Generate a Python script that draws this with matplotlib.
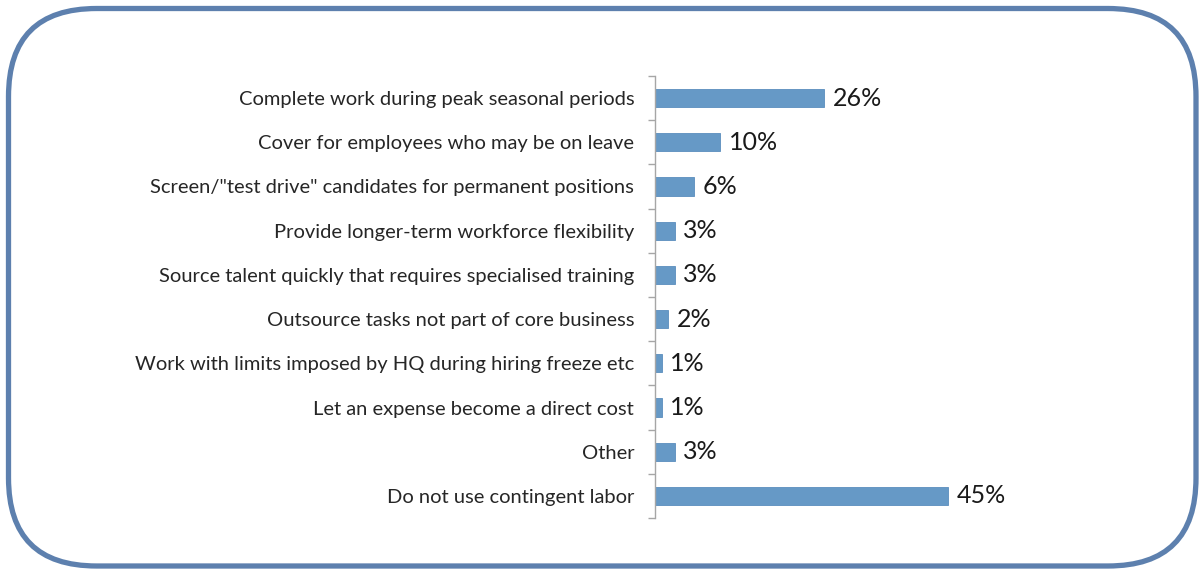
import matplotlib
matplotlib.use("Agg")
import matplotlib.pyplot as plt
from matplotlib.patches import FancyBboxPatch

categories = [
    "Complete work during peak seasonal periods",
    "Cover for employees who may be on leave",
    "Screen/\"test drive\" candidates for permanent positions",
    "Provide longer-term workforce flexibility",
    "Source talent quickly that requires specialised training",
    "Outsource tasks not part of core business",
    "Work with limits imposed by HQ during hiring freeze etc",
    "Let an expense become a direct cost",
    "Other",
    "Do not use contingent labor",
]
values = [26, 10, 6, 3, 3, 2, 1, 1, 3, 45]

plt.rcParams['font.family'] = ['Lato', 'DejaVu Sans']

fig = plt.figure(figsize=(12.01, 5.69), dpi=100)

# -- rounded frame drawn in pixel units
bg = fig.add_axes([0, 0, 1, 1])
bg.set_xlim(0, 1201)
bg.set_ylim(0, 569)
bg.axis('off')
frame = FancyBboxPatch((8.5, 3), 1187.5, 557.5,
                       boxstyle="round,pad=0,rounding_size=88",
                       fill=False, edgecolor='#5d80ae', linewidth=3.8)
bg.add_patch(frame)

ax = fig.add_axes([655/1201, 51/569, 325/1201, 442/569])
pos = list(range(len(categories)))
ax.barh(pos, values, height=0.41, color='#6699c6',
        edgecolor='#5a8dbd', linewidth=0.6)
ax.set_xlim(0, 50)
ax.set_ylim(len(categories) - 0.5, -0.5)

ax.set_yticks(pos)
ax.set_yticklabels(categories, fontsize=14.5, color='#262626')
ax.tick_params(axis='y', which='major', length=0, pad=15)
ax.set_yticks([p - 0.5 for p in pos] + [len(categories) - 0.5], minor=True)
ax.tick_params(axis='y', which='minor', length=5, color='#a6a6a6', width=1)
ax.set_xticks([])

for s in ['top', 'right', 'bottom']:
    ax.spines[s].set_visible(False)
ax.spines['left'].set_color('#a6a6a6')
ax.spines['left'].set_linewidth(1)

for p, v in zip(pos, values):
    ax.text(v + 1.35, p, f"{v}%", va='center', ha='left',
            fontsize=18, color='#1a1a1a')

fig.savefig('out.png', dpi=100)
